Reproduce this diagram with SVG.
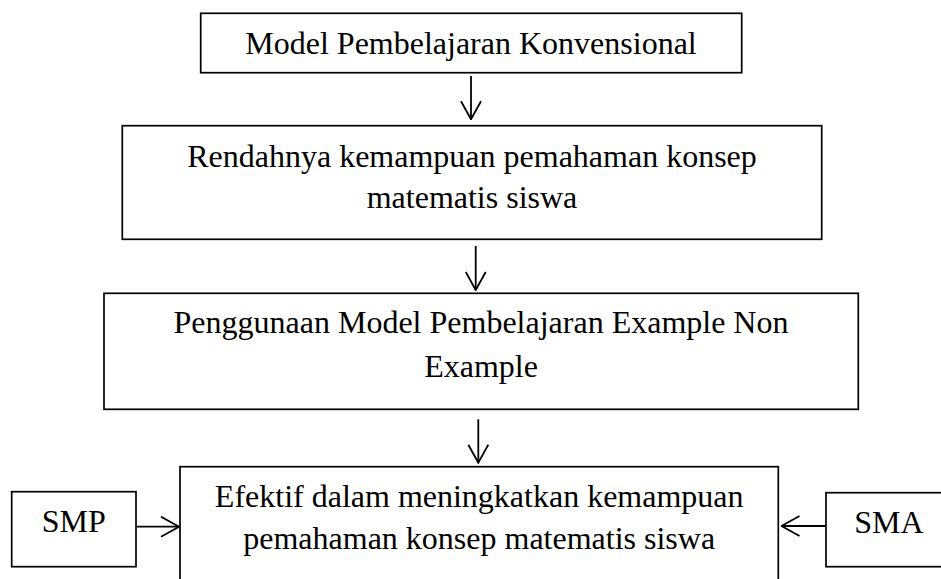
<svg xmlns="http://www.w3.org/2000/svg" width="941" height="579" viewBox="0 0 941 579">
  <style>
    .box { fill: #fff; stroke: #000; stroke-width: 1.7; }
    .lbl { font-family: "Liberation Serif", "Times New Roman", serif; font-size: 32px; fill: #000; text-anchor: middle; }
    .conn { stroke: #000; stroke-width: 1.8; fill: none; }
  </style>
  <defs>
    <marker id="arr" viewBox="0 0 20 22" refX="19" refY="11" markerWidth="20" markerHeight="22" markerUnits="userSpaceOnUse" orient="auto">
      <path d="M1,1 L19,11 L1,21" fill="none" stroke="#000" stroke-width="1.8"/>
    </marker>
  </defs>
  <rect width="941" height="579" fill="#fff"/>

  <g id="node-konvensional">
    <rect class="box" x="200.7" y="13.3" width="541" height="59.4"/>
    <text class="lbl" x="471" y="54">Model Pembelajaran Konvensional</text>
  </g>

  <g id="node-rendahnya">
    <rect class="box" x="122.3" y="125.7" width="699.4" height="113.6"/>
    <text class="lbl" x="472" y="166.7">Rendahnya kemampuan pemahaman konsep</text>
    <text class="lbl" x="472" y="208.3">matematis siswa</text>
  </g>

  <g id="node-penggunaan">
    <rect class="box" x="104" y="293.3" width="754.3" height="116"/>
    <text class="lbl" x="481" y="333.3">Penggunaan Model Pembelajaran Example Non</text>
    <text class="lbl" x="481" y="376.7">Example</text>
  </g>

  <g id="node-efektif">
    <rect class="box" x="180" y="466.7" width="598.3" height="130"/>
    <text class="lbl" x="479.2" y="507.3">Efektif dalam meningkatkan kemampuan</text>
    <text class="lbl" x="479.2" y="549">pemahaman konsep matematis siswa</text>
  </g>

  <g id="node-smp">
    <rect class="box" x="11.7" y="491.7" width="124.3" height="75"/>
    <text class="lbl" x="73.8" y="531.7">SMP</text>
  </g>

  <g id="node-sma">
    <rect class="box" x="826" y="492.7" width="130" height="74"/>
    <text class="lbl" x="889" y="533.3">SMA</text>
  </g>

  <g id="connectors">
    <line class="conn" x1="471" y1="76" x2="471" y2="119.3" marker-end="url(#arr)"/>
    <line class="conn" x1="475.7" y1="246" x2="475.7" y2="290" marker-end="url(#arr)"/>
    <line class="conn" x1="478.3" y1="419.3" x2="478.3" y2="462.7" marker-end="url(#arr)"/>
    <line class="conn" x1="136" y1="526.7" x2="179" y2="526.7" marker-end="url(#arr)"/>
    <line class="conn" x1="826" y1="526" x2="781.5" y2="526" marker-end="url(#arr)"/>
  </g>
</svg>
